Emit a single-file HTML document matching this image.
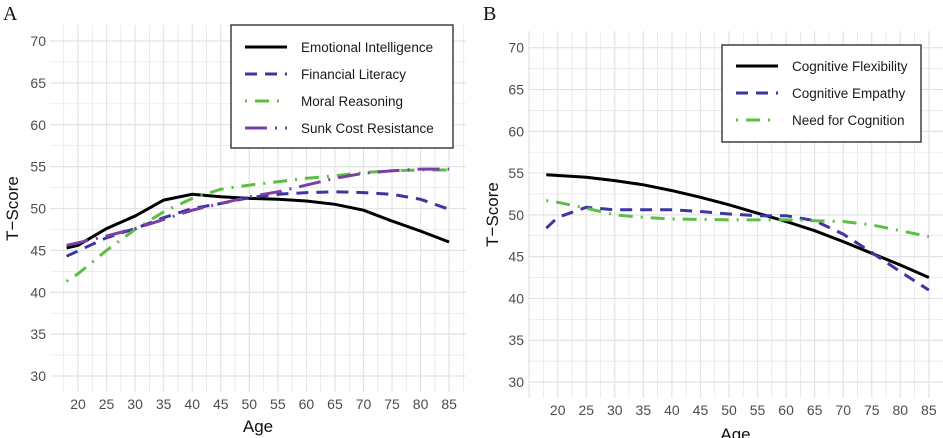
<!DOCTYPE html>
<html><head><meta charset="utf-8"><style>
html,body{margin:0;padding:0;background:#fff;}
svg{display:block;font-family:"Liberation Sans",sans-serif;}
</style></head><body>
<svg id="s" width="943" height="438" xmlns="http://www.w3.org/2000/svg"></svg>
<script>
var s=document.getElementById('s');var out='';
function panel(o){
  var X=function(a){return o.x20+(a-20)*5.71;};
  var Y=function(v){return o.y70+(70-v)*(o.y30-o.y70)/40;};
  for(var v=27.5;v<=72.5;v+=2.5){var y=Y(v);if(y<o.top||y>o.bot)continue;
    out+='<line x1="'+o.left+'" x2="'+o.right+'" y1="'+y+'" y2="'+y+'" stroke="#e3e3e3" stroke-width="'+(v%5==0?1.2:0.7)+'"/>';}
  for(var a=12.5;a<=90;a+=2.5){var x=X(a);if(x<o.left||x>o.right)continue;
    out+='<line y1="'+o.top+'" y2="'+o.bot+'" x1="'+x+'" x2="'+x+'" stroke="#e3e3e3" stroke-width="'+(a%5==0?1.2:0.7)+'"/>';}
  for(var v=30;v<=70;v+=5){out+='<text x="'+(o.left-4)+'" y="'+(Y(v)+5)+'" text-anchor="end" font-size="14" fill="#4d4d4d">'+v+'</text>';}
  for(var a=20;a<=85;a+=5){out+='<text x="'+X(a)+'" y="'+(o.bot+17)+'" text-anchor="middle" font-size="14" fill="#4d4d4d">'+a+'</text>';}
  o.series.forEach(function(sr){
    var d=sr.d.map(function(p,i){return (i?'L':'M')+X(p[0]).toFixed(1)+','+Y(p[1]).toFixed(1);}).join('');
    out+='<path d="'+d+'" fill="none" stroke="'+sr.c+'" stroke-width="3"'+(sr.da?' stroke-dasharray="'+sr.da+'"':'')+'/>';
  });
  var L=o.leg;out+='<rect x="'+L.x+'" y="'+L.y+'" width="'+L.w+'" height="'+L.h+'" fill="#fff" stroke="#222" stroke-width="1.3"/>';
  o.series.forEach(function(sr,i){var y=L.y0+i*27;
    out+='<line x1="'+(L.x+14)+'" x2="'+(L.x+56)+'" y1="'+y+'" y2="'+y+'" stroke="'+sr.c+'" stroke-width="3"'+(sr.da?' stroke-dasharray="'+sr.da+'"':'')+'/>';
    out+='<text x="'+(L.x+70)+'" y="'+(y+5)+'" font-size="13.5" fill="#1a1a1a">'+sr.n+'</text>';});
  out+='<text x="'+o.lx+'" y="20" font-family="Liberation Serif" font-size="20" fill="#111">'+o.lab+'</text>';
  out+='<text transform="translate('+o.tx+','+((o.top+o.bot)/2)+') rotate(-90)" text-anchor="middle" font-size="17" fill="#111">T\u2212Score</text>';
  out+='<text x="'+((o.left+o.right)/2)+'" y="'+o.ay+'" text-anchor="middle" font-size="17" fill="#111">Age</text>';
}
var BL='#3b37a0',GR='#5cbf45',PU='#7a3ea6';
panel({x20:78,y70:41,y30:376,left:50,right:466,top:25,bot:392,lab:'A',lx:3,tx:18,ay:432,
 leg:{x:231,y:25,w:222,h:123,y0:47},
 series:[
 {n:'Emotional Intelligence',c:'#000',d:[[18,45.3],[20,45.6],[25,47.6],[30,49.1],[35,51.0],[40,51.7],[45,51.4],[50,51.2],[55,51.1],[60,50.9],[65,50.5],[70,49.8],[75,48.5],[80,47.3],[85,46.0]]},
 {n:'Financial Literacy',c:BL,da:'12,8',d:[[18,44.3],[25,46.5],[30,47.6],[35,48.9],[40,50.0],[45,50.6],[50,51.3],[55,51.7],[60,51.9],[65,52.0],[70,51.9],[75,51.7],[80,51.1],[85,49.9]]},
 {n:'Moral Reasoning',c:GR,da:'2,8,14,8',d:[[18,41.3],[20,42.2],[25,45.0],[30,47.5],[35,49.6],[40,51.2],[45,52.3],[50,52.8],[55,53.2],[60,53.6],[65,53.9],[70,54.3],[75,54.5],[80,54.6],[85,54.6]]},
 {n:'Sunk Cost Resistance',c:PU,da:'22,8,2,8',d:[[18,45.6],[20,45.9],[25,46.7],[30,47.6],[35,48.7],[40,49.8],[45,50.6],[50,51.4],[55,52.0],[60,52.8],[65,53.6],[70,54.2],[75,54.5],[80,54.7],[85,54.7]]}
 ]});
panel({x20:557.7,y70:47.7,y30:382,left:528,right:943,top:31,bot:398,lab:'B',lx:483,tx:498,ay:440,
 leg:{x:722,y:45,w:199,h:97,y0:66},
 series:[
 {n:'Cognitive Flexibility',c:'#000',d:[[18,54.8],[25,54.5],[30,54.1],[35,53.6],[40,52.9],[45,52.1],[50,51.2],[55,50.2],[60,49.2],[65,48.1],[70,46.8],[75,45.4],[80,44.0],[85,42.5]]},
 {n:'Cognitive Empathy',c:BL,da:'12,8',d:[[18,48.4],[20,49.7],[25,50.9],[30,50.6],[40,50.6],[45,50.4],[50,50.1],[55,49.9],[60,49.9],[65,49.3],[70,47.7],[75,45.5],[80,43.2],[85,41.0]]},
 {n:'Need for Cognition',c:GR,da:'2,8,14,8',d:[[18,51.7],[20,51.5],[25,50.8],[30,50.0],[35,49.7],[40,49.5],[50,49.4],[60,49.4],[65,49.3],[70,49.2],[75,48.8],[80,48.1],[85,47.4]]}
 ]});
s.innerHTML=out;
</script>
</body></html>
